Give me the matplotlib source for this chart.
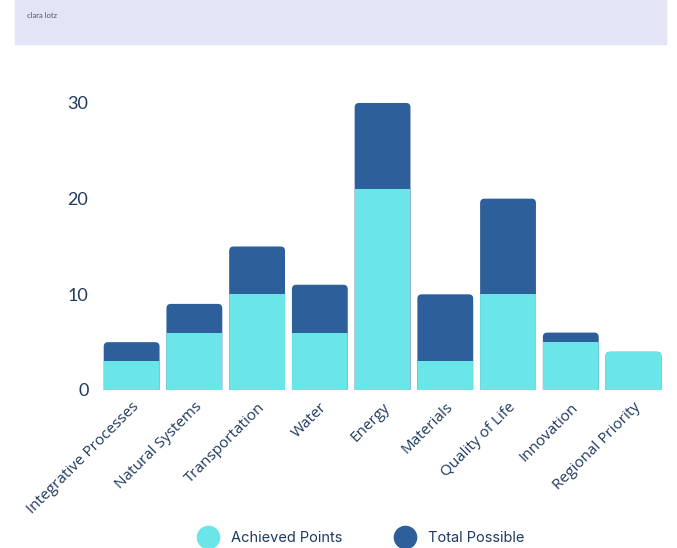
import matplotlib
matplotlib.use("Agg")
import matplotlib.pyplot as plt
from matplotlib.patches import FancyBboxPatch, Rectangle
from matplotlib.lines import Line2D

plt.rcParams["font.family"] = ["Lato", "DejaVu Sans"]

categories = ["Integrative Processes", "Natural Systems", "Transportation", "Water",
              "Energy", "Materials", "Quality of Life", "Innovation", "Regional Priority"]
achieved = [3, 6, 10, 6, 21, 3, 10, 5, 4]
total = [5, 9, 15, 11, 30, 10, 20, 6, 4]

C_ACH, C_TOT = "#6ae6e8", "#2d5f9a"
C_TXT = "#1f3a5f"

fig = plt.figure(figsize=(6.77, 5.48), dpi=100)

# header band
fig.patches.append(Rectangle((15 / 677, 1 - 44 / 548), 651 / 677, 44 / 548,
                             transform=fig.transFigure, color="#e3e4f6", zorder=0))
fig.text(27 / 677, 1 - 16 / 548, "clara lotz", fontsize=5.5, color="#555555", va="center")

ax = fig.add_axes([94 / 677, 158 / 548, 574 / 677, 296.6 / 548])
x = list(range(len(categories)))
w = 0.89

# total possible (rounded top), achieved clipped to it
tot_bars = ax.bar(x, total, w, color=C_TOT, zorder=2)
aspect = 62.8 / 9.567
for i, b in enumerate(tot_bars):
    b.set_visible(False)
    rp = FancyBboxPatch((b.get_x(), -1), b.get_width(), b.get_height() + 1,
                        boxstyle="round,pad=0,rounding_size=0.07",
                        mutation_aspect=aspect, facecolor=C_TOT, edgecolor="none",
                        zorder=2)
    ax.add_patch(rp)
    ach = ax.bar(x[i], achieved[i], w, color=C_ACH, zorder=3)[0]
    ach.set_clip_path(rp)

ax.set_xlim(-0.6, 8.55)
ax.set_ylim(0, 31)
ax.set_yticks([0, 10, 20, 30])
ax.set_xticks(x)
ax.set_xticklabels(categories, rotation=45, ha="right", rotation_mode="anchor",
                   fontsize=11, color=C_TXT, family=["Open Sans", "DejaVu Sans"])
ax.tick_params(axis="y", length=0, labelsize=13, labelcolor=C_TXT, pad=4)
ax.tick_params(axis="x", length=0, pad=7)
for s in ax.spines.values():
    s.set_visible(False)

handles = [Line2D([], [], marker="o", linestyle="none", markersize=16,
                  markerfacecolor=C_ACH, markeredgecolor=C_ACH, label="Achieved Points"),
           Line2D([], [], marker="o", linestyle="none", markersize=16,
                  markerfacecolor=C_TOT, markeredgecolor=C_TOT, label="Total Possible")]
leg = fig.legend(handles=handles, loc="center", bbox_to_anchor=(0.53, 1 - 538 / 548),
                 ncol=2, frameon=False, prop={"family": ["Inter", "DejaVu Sans"], "size": 10.5},
                 columnspacing=3.3, handletextpad=0.55)
for t in leg.get_texts():
    t.set_color(C_TXT)

fig.savefig("out.png", dpi=100)
